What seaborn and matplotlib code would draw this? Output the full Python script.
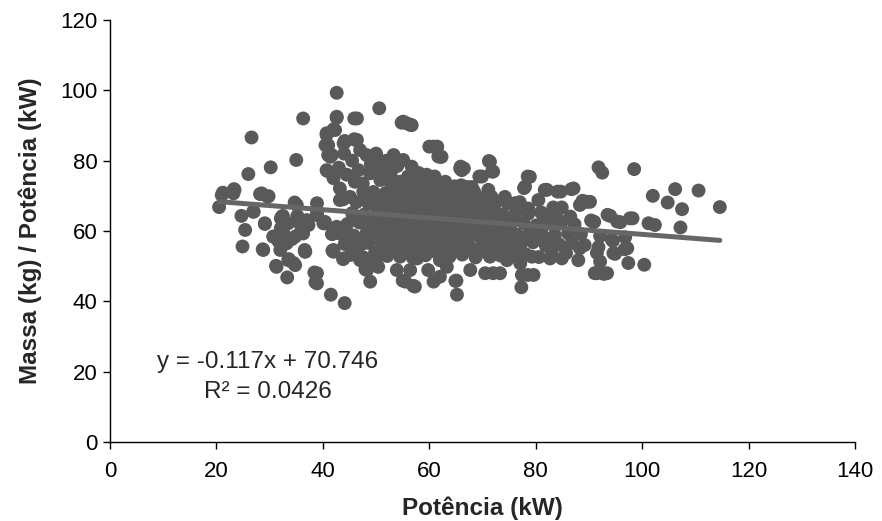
import numpy as np
import pandas as pd
import matplotlib
matplotlib.use("Agg")
import matplotlib.pyplot as plt
import seaborn as sns

# ---------------- data ----------------
# sparse / edge points: power (kW) and mass/power (kg/kW)
edge_x = [20.5, 21.2, 23.3, 24.7, 25.4, 24.9, 26.0, 26.6, 27.0, 28.2, 28.7, 29.1, 29.6, 30.2,
          30.7, 31.2, 31.7, 32.1, 32.5, 32.1, 33.3, 33.6, 34.2, 34.5, 34.7, 35.0, 35.2, 35.7,
          36.3, 36.6, 37.1, 38.4, 38.6, 38.9, 40.3, 40.7, 40.5, 40.8, 41.0, 41.5, 41.7, 41.8,
          42.0, 42.6, 42.6, 44.1, 43.8, 43.8, 43.8, 44.1, 45.9, 45.9, 48.9, 48.0, 50.6, 54.8,
          56.4, 55.0, 57.0, 60.0, 61.5, 61.7, 65.2, 64.9, 65.9, 66.5, 69.4, 71.2, 71.8, 77.3,
          78.5, 77.8, 78.5, 81.7, 84.1, 86.7, 88.8, 90.4, 91.8, 92.5, 93.5, 92.8, 91.1, 94.3,
          94.6, 95.3, 96.7, 97.4, 97.7, 98.5, 100.4, 101.2, 102.0, 104.8, 106.2, 107.5, 107.2,
          110.6, 114.6, 90.2, 91.0, 94.0, 95.9, 98.2, 102.4, 92.1, 94.5, 96.8, 91.8, 91.5,
          97.2, 94.9, 92.1, 93.4]
edge_y = [66.8, 70.9, 71.9, 64.3, 60.3, 55.6, 76.2, 86.6, 65.5, 70.5, 54.8, 62.0, 69.8, 78.1,
          58.4, 50.1, 57.0, 63.6, 64.3, 60.8, 46.8, 52.0, 57.7, 50.9, 68.1, 80.2, 64.3, 59.4,
          92.0, 54.2, 62.0, 48.2, 45.4, 65.1, 62.2, 87.8, 84.4, 77.1, 81.6, 41.9, 59.1, 54.4,
          88.9, 99.3, 92.2, 39.5, 52.0, 60.3, 69.0, 85.6, 92.0, 86.1, 45.6, 49.1, 94.9, 90.8,
          90.2, 45.9, 44.4, 84.0, 84.0, 81.2, 41.9, 45.8, 78.3, 77.8, 75.5, 79.9, 76.9, 44.0,
          47.5, 72.2, 75.5, 71.7, 71.2, 71.9, 68.6, 63.0, 78.1, 76.6, 64.6, 47.8, 48.0, 57.5,
          53.7, 62.7, 54.8, 50.9, 63.6, 77.6, 50.4, 62.2, 70.0, 68.1, 71.9, 66.2, 61.0,
          71.5, 66.8, 68.3, 62.6, 64.3, 62.5, 63.6, 61.7, 58.6, 57.2, 58.2, 55.4, 53.8,
          55.1, 53.5, 51.3, 48.0]

# points on the outline of the dense cloud
outline_x = [40.7, 41.0, 43.9, 46.4, 55.8, 61.4, 62.3, 41.7, 48.2, 51.4, 53.3, 55.1, 56.7,
             40.7, 42.0, 46.7, 48.9, 50.8, 52.9, 58.9, 60.8, 62.6, 43.2, 45.1, 47.6, 49.5,
             52.0, 53.9, 57.0, 43.2, 37.0, 40.1, 42.6, 45.7, 66.1, 71.4, 72.0, 69.9, 78.9,
             78.0, 82.1, 84.7, 87.1, 89.6, 74.2, 80.5, 83.3, 84.9, 88.3, 90.8, 66.4, 68.3,
             71.1, 76.1, 78.6, 86.5, 81.5, 84.3, 36.7, 42.0, 43.9, 38.9, 38.9, 48.3, 50.4,
             53.9, 56.4, 55.5, 57.3, 60.8, 59.8, 62.0, 36.3, 42.0, 47.0, 48.9, 50.8, 54.5,
             57.7, 62.0, 52.6, 47.6, 65.1, 79.6, 77.4, 70.5, 73.3, 72.0, 79.3, 82.7, 84.9,
             88.0, 88.3, 91.5, 63.3, 67.7, 71.4, 74.6, 77.1, 68.3, 73.9, 83.3, 62.6, 76.4,
             42.6, 46.4, 55.1, 56.7, 60.8, 62.0, 65.8, 42.3, 44.2, 46.1, 23.4, 28.5, 29.8,
             41.4, 42.0, 21.0, 23.2, 35.1, 26.9, 28.8, 29.1, 30.7, 32.0, 31.3, 33.5, 34.8,
             32.3, 33.5, 35.4, 32.6, 34.8, 33.2, 36.6, 37.3, 38.9, 40.4, 42.0, 42.0, 38.9]
outline_y = [87.3, 84.4, 84.9, 85.9, 90.6, 83.5, 81.1, 81.6, 81.6, 79.7, 81.6, 80.2, 78.3,
             77.3, 75.0, 77.3, 76.4, 74.5, 75.0, 74.5, 73.5, 71.7, 72.1, 69.7, 71.2, 68.8,
             69.7, 72.6, 71.7, 68.8, 63.1, 62.2, 61.2, 64.1, 77.3, 79.7, 76.9, 75.5, 75.4,
             72.6, 71.7, 71.2, 72.1, 68.3, 69.7, 68.8, 66.7, 66.7, 67.4, 62.6, 70.7, 70.2,
             71.7, 67.9, 66.4, 64.1, 63.6, 63.1, 54.1, 54.1, 52.2, 48.0, 45.1, 48.9, 49.8,
             48.9, 48.9, 45.6, 44.2, 45.6, 48.9, 47.0, 59.3, 59.3, 51.7, 50.8, 53.2, 52.7,
             52.2, 51.7, 56.5, 56.5, 45.9, 47.5, 47.5, 48.0, 48.0, 48.0, 52.7, 52.2, 52.2,
             51.7, 55.1, 48.0, 49.8, 48.9, 52.7, 51.7, 50.8, 54.6, 55.1, 55.5, 55.5, 56.5,
             92.5, 92.0, 91.1, 90.1, 84.0, 81.1, 77.8, 88.7, 85.4, 85.9, 71.7, 70.7, 69.9,
             81.1, 75.4, 70.2, 70.7, 67.4, 65.5, 54.6, 62.2, 58.4, 54.6, 49.8, 51.7, 50.3,
             64.1, 62.2, 62.6, 59.3, 58.4, 56.5, 54.6, 61.7, 64.5, 62.6, 54.6, 59.3, 67.9]

# points of the diagonal upper band (41-68 kW)
band_x = [43.0, 44.5, 46.0, 47.5, 49.0, 50.0, 51.5, 53.0, 54.5, 56.0, 57.5, 44.0, 45.5,
          47.0, 50.0, 52.0, 54.0, 58.0, 59.5, 61.0, 63.0, 64.5, 66.0, 68.0]
band_y = [78.0, 76.0, 74.0, 73.5, 79.0, 77.0, 76.5, 77.5, 74.0, 75.5, 72.5, 82.0, 80.0,
          83.0, 82.0, 80.0, 78.5, 76.5, 76.0, 75.5, 74.0, 72.5, 73.0, 72.5]

# points of the saturated core of the cloud
core_x = [45.2, 47.5, 49.8, 52.1, 54.6, 56.9, 59.3, 61.4, 63.8, 66.2, 68.7, 71.0, 73.4, 75.9,
          78.1, 80.6, 83.0, 85.7,
          44.1, 46.4, 48.7, 51.3, 53.5, 55.8, 58.2, 60.7, 62.9, 65.4, 67.6, 70.1, 72.5, 74.8,
          77.2, 79.5, 81.9, 84.4, 86.8, 89.2,
          43.5, 45.8, 48.2, 50.6, 52.8, 55.1, 57.6, 59.9, 62.3, 64.7, 67.0, 69.4, 71.8, 74.1,
          76.6, 78.9, 81.2, 83.6, 86.1, 88.5,
          44.6, 46.9, 49.3, 51.7, 54.0, 56.4, 58.8, 61.1, 63.5, 65.9, 68.2, 70.6, 73.0, 75.3,
          77.7, 80.1, 82.4, 84.8, 87.3,
          45.5, 47.8, 50.2, 52.5, 54.9, 57.3, 59.6, 62.0, 64.4, 66.7, 69.1, 71.5, 73.8, 76.2,
          78.6, 81.0, 83.5,
          46.3, 48.6, 51.0, 53.4, 55.7, 58.1, 60.5, 62.8, 65.2, 67.6, 69.9, 72.3, 74.7, 77.0,
          49.5, 51.8, 54.2, 56.6, 58.9, 61.3, 63.7, 66.0, 68.4,
          52.6, 55.0, 57.4, 59.7,
          50.9, 53.3, 55.6, 58.0, 60.4, 62.7, 65.1, 67.5, 69.8, 72.2, 74.6, 76.9,
          51.4, 53.9, 56.2, 58.6, 61.0, 63.3, 65.7, 68.0, 70.4, 72.8, 75.1,
          52.0, 54.4, 56.8, 59.1, 61.5, 63.9, 66.3, 68.6, 71.0,
          55.3, 57.7, 60.1, 62.4, 64.8, 67.2,
          46.0, 48.4, 50.7, 53.0, 55.4, 57.9, 60.2, 62.6, 65.0, 67.3, 69.7, 72.0, 74.4, 76.8,
          79.2, 81.6,
          47.1, 49.6, 52.0, 54.3, 56.7, 59.0, 61.4, 63.8, 66.1, 68.5, 70.8, 73.2, 75.6,
          48.0, 50.3, 52.7, 55.1, 57.5, 59.8, 62.2, 64.6, 67.0, 69.3, 71.7]
core_y = [53.2, 52.6, 53.8, 52.9, 53.5, 52.4, 53.1, 53.9, 52.7, 53.3, 52.5, 53.6, 53.0, 52.8,
          53.4, 52.6, 53.1, 53.7,
          56.3, 55.8, 56.6, 55.9, 56.2, 56.8, 55.7, 56.4, 56.0, 56.7, 55.6, 56.1, 56.5, 55.9,
          56.3, 56.8, 55.8, 56.2, 56.6, 56.0,
          59.1, 58.7, 59.4, 58.9, 59.3, 58.6, 59.2, 59.8, 58.8, 59.5, 59.0, 58.7, 59.4, 59.1,
          58.9, 59.6, 59.0, 58.8, 59.3, 59.1,
          62.0, 62.4, 61.8, 62.3, 61.9, 62.6, 62.1, 61.7, 62.5, 62.0, 61.8, 62.4, 62.2, 61.9,
          62.3, 61.6, 62.1, 62.4, 61.9,
          65.1, 64.7, 65.3, 64.9, 65.4, 64.8, 65.2, 64.6, 65.0, 65.3, 64.9, 65.1, 64.7, 65.2,
          64.9, 65.3, 64.8,
          68.2, 67.8, 68.4, 67.9, 68.3, 67.7, 68.1, 68.5, 67.8, 68.0, 68.3, 67.6, 67.9, 68.2,
          71.1, 70.8, 71.4, 70.9, 71.2, 70.6, 71.0, 70.7, 71.3,
          74.2, 73.8, 74.4, 73.9,
          54.6, 54.9, 54.5, 55.0, 54.7, 54.4, 54.8, 55.1, 54.6, 54.9, 54.5, 54.8,
          60.6, 60.3, 60.8, 60.4, 60.7, 60.2, 60.6, 60.9, 60.3, 60.5, 60.7,
          66.6, 66.3, 66.8, 66.4, 66.7, 66.2, 66.5, 66.9, 66.4,
          72.6, 72.4, 72.8, 72.3, 72.7, 72.5,
          57.8, 58.1, 57.6, 58.0, 57.7, 58.2, 57.9, 57.5, 58.1, 57.8, 58.0, 57.6, 57.9, 58.2,
          57.7, 58.0,
          63.6, 63.4, 63.8, 63.5, 63.7, 63.3, 63.6, 63.9, 63.4, 63.7, 63.5, 63.8, 63.6,
          69.6, 69.3, 69.8, 69.5, 69.7, 69.4, 69.6, 69.9, 69.3, 69.5, 69.7]

# linear trend line reported on the chart
trend_slope = -0.117
trend_intercept = 70.746
trend_r2 = 0.0426

x_ticks = [0, 20, 40, 60, 80, 100, 120, 140]
y_ticks = [0, 20, 40, 60, 80, 100, 120]

# ---------------- figure ----------------
sns.set_theme(style="white")
plt.rcParams['font.family'] = ['Liberation Sans', 'DejaVu Sans']

df = pd.DataFrame({
    "Potência (kW)": edge_x + outline_x + band_x + core_x,
    "Massa (kg) / Potência (kW)": edge_y + outline_y + band_y + core_y,
})

fig = plt.figure(figsize=(8.82, 5.21), dpi=100)
ax = fig.add_axes([110 / 882, 1 - 442 / 521, 745 / 882, 422 / 521])

sns.scatterplot(data=df, x="Potência (kW)", y="Massa (kg) / Potência (kW)", ax=ax,
                s=100, color="#595959", edgecolor="none", linewidth=0, alpha=1, zorder=2)

xmin, xmax = df["Potência (kW)"].min(), df["Potência (kW)"].max()
lx = np.array([xmin, xmax])
ax.plot(lx, trend_slope * lx + trend_intercept, color="#666666", lw=3.6,
        solid_capstyle="round", zorder=3)

ax.set_xlim(0, 140)
ax.set_ylim(0, 120)
ax.set_xticks(x_ticks)
ax.set_yticks(y_ticks)
ax.tick_params(axis="both", labelsize=16, colors="black", length=5, width=1,
               direction="out")
ax.tick_params(axis="x", pad=9)
ax.tick_params(axis="y", pad=4)
ax.xaxis.set_ticks_position("bottom")
ax.yaxis.set_ticks_position("left")
for side in ["top", "right"]:
    ax.spines[side].set_visible(False)
for side in ["left", "bottom"]:
    ax.spines[side].set_color("black")
    ax.spines[side].set_linewidth(1)

ax.set_xlabel("Potência (kW)", fontsize=17.5, fontweight="bold", labelpad=10)
ax.set_ylabel("Massa (kg) / Potência (kW)", fontsize=17.5, fontweight="bold", labelpad=13)

ax.text(29.7, 22.7, f"y = {trend_slope}x + {trend_intercept}", ha="center", va="center",
        fontsize=17.5)
ax.text(29.7, 14.2, f"R² = {trend_r2}", ha="center", va="center", fontsize=17.5)

fig.savefig("out.png", dpi=100)
